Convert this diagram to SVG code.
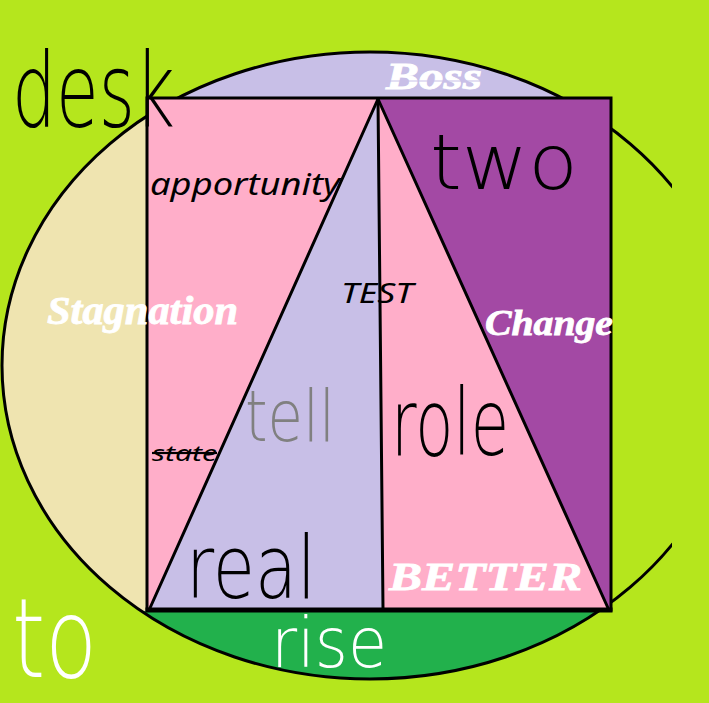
<svg xmlns="http://www.w3.org/2000/svg" width="709" height="703" viewBox="0 0 709 703">
  <defs>
    <clipPath id="ellClip">
      <ellipse cx="370" cy="365.5" rx="368" ry="313.5"/>
    </clipPath>
    <clipPath id="canvasClip">
      <rect x="0" y="0" width="672" height="703"/>
    </clipPath>
    <style>
      .ln { stroke: #000; stroke-width: 3; fill: none; stroke-linecap: round; }
      .hand { font-family: "DejaVu Sans", "Liberation Sans", sans-serif; font-weight: 200; }
      .ital { font-family: "Noto Sans", "Open Sans", "Liberation Sans", sans-serif; font-style: italic; fill: #000; }
      .serif { font-family: "Liberation Serif", "DejaVu Serif", serif; font-style: italic; font-weight: bold; fill: #fff; stroke: #fff; stroke-width: 0.8; }
    </style>
  </defs>

  <!-- background -->
  <rect id="background" x="0" y="0" width="709" height="703" fill="#b5e61d"/>

  <!-- ellipse regions -->
  <g id="ellipse">
    <g clip-path="url(#ellClip)">
      <rect x="0" y="0" width="709" height="99" fill="#c8bfe7"/>
      <rect x="0" y="0" width="147" height="703" fill="#efe4b0"/>
      <rect x="0" y="611" width="709" height="92" fill="#22b14c"/>
    </g>
    <g clip-path="url(#canvasClip)">
      <ellipse cx="370" cy="365.5" rx="368" ry="313.5" fill="none" stroke="#000" stroke-width="3"/>
    </g>
  </g>

  <!-- main rectangle with triangle -->
  <g id="frame">
    <rect x="147" y="98" width="464" height="512" fill="#ffaec9"/>
    <polygon points="378,99 149,609 383,609" fill="#c8bfe7"/>
    <polygon points="378,99 611,99 611,609 608,609" fill="#a349a4"/>
  </g>

  <g id="connectors">
    <line class="ln" x1="378" y1="99" x2="150" y2="608"/>
    <line class="ln" x1="378" y1="99" x2="383" y2="608"/>
    <line class="ln" x1="378" y1="99" x2="608" y2="608"/>
    <rect x="147" y="98" width="464" height="512" fill="none" stroke="#000" stroke-width="3"/>
    <line x1="145.5" y1="610" x2="612.5" y2="610" stroke="#000" stroke-width="5"/>
  </g>

  <!-- labels -->
  <g id="node-desk">
    <text class="hand" x="12" y="127" font-size="104" fill="#000" textLength="163" lengthAdjust="spacingAndGlyphs">desk</text>
  </g>
  <g id="node-boss">
    <text class="serif" x="386" y="89" font-size="38" textLength="96" lengthAdjust="spacingAndGlyphs">Boss</text>
    <line x1="388" y1="81" x2="482" y2="81" stroke="#c8bfe7" stroke-width="1.2"/>
  </g>
  <g id="node-two">
    <text class="hand" x="430" y="189" font-size="76" fill="#000" textLength="148" lengthAdjust="spacingAndGlyphs">two</text>
  </g>
  <g id="node-apportunity">
    <text class="ital" x="150" y="195" font-size="30" textLength="190" lengthAdjust="spacingAndGlyphs">apportunity</text>
  </g>
  <g id="node-test">
    <text class="ital" x="341" y="303" font-size="28" textLength="72" lengthAdjust="spacingAndGlyphs">TEST</text>
  </g>
  <g id="node-stagnation">
    <text class="serif" x="47" y="324" font-size="39" textLength="191" lengthAdjust="spacingAndGlyphs">Stagnation</text>
  </g>
  <g id="node-change">
    <text class="serif" x="485" y="335" font-size="35" textLength="128" lengthAdjust="spacingAndGlyphs">Change</text>
  </g>
  <g id="node-state">
    <text class="ital" x="152" y="461" font-size="22" textLength="65" lengthAdjust="spacingAndGlyphs" text-decoration="line-through">state</text>
  </g>
  <g id="node-tell">
    <text class="hand" x="245" y="441" font-size="72" fill="#808080" textLength="90" lengthAdjust="spacingAndGlyphs">tell</text>
  </g>
  <g id="node-role">
    <text class="hand" x="391" y="455" font-size="92" fill="#000" textLength="118" lengthAdjust="spacingAndGlyphs">role</text>
  </g>
  <g id="node-real">
    <text class="hand" x="186" y="598" font-size="88" fill="#000" textLength="130" lengthAdjust="spacingAndGlyphs">real</text>
  </g>
  <g id="node-better">
    <text class="serif" x="389" y="590" font-size="41" stroke-width="1.6" textLength="193" lengthAdjust="spacingAndGlyphs">BETTER</text>
  </g>
  <g id="node-rise">
    <text class="hand" x="271" y="667" font-size="70" fill="#fff" textLength="116" lengthAdjust="spacingAndGlyphs">rise</text>
  </g>
  <g id="node-to">
    <text class="hand" x="12" y="677" font-size="110" fill="#fff" textLength="85" lengthAdjust="spacingAndGlyphs">to</text>
  </g>
</svg>
